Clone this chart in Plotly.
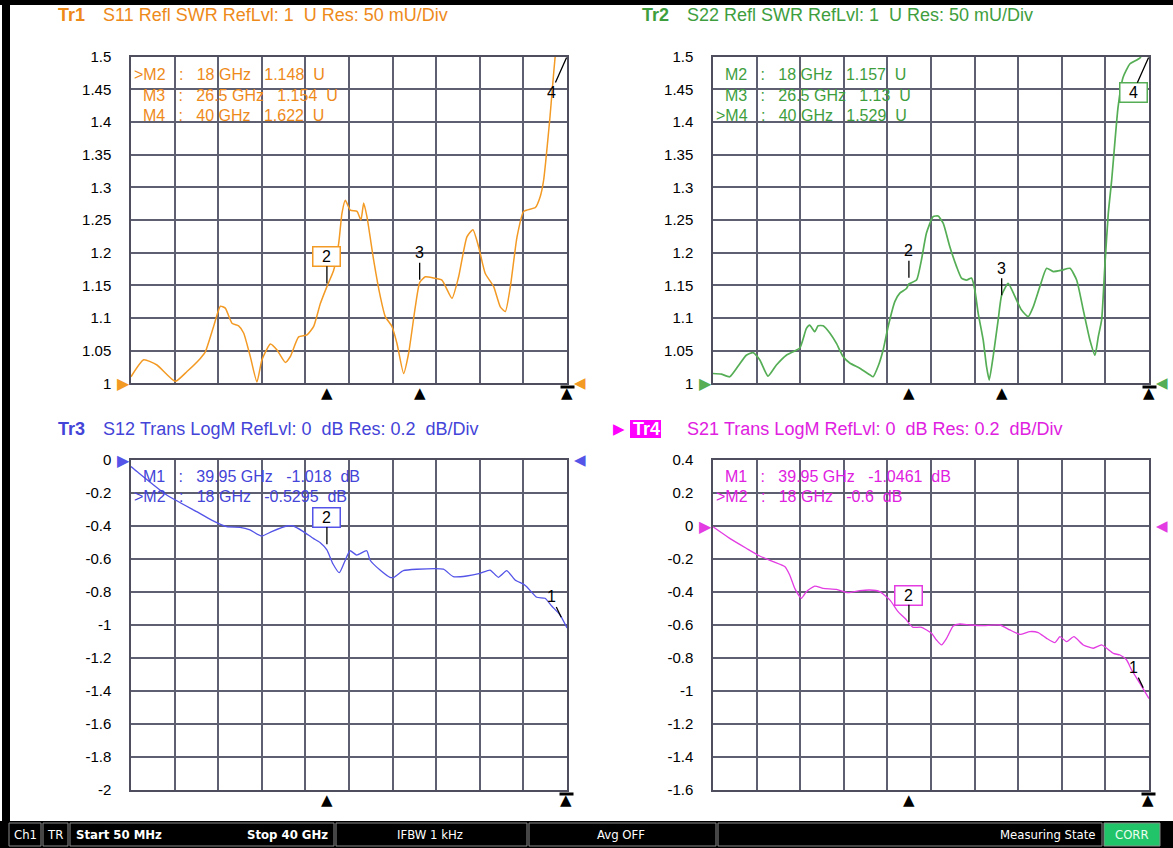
import plotly.graph_objects as go

W, H = 1173, 848

# ---------------- data ----------------
# Tr1  S11 SWR
s11_freq = [0.05, 1.21, 2.43, 4.11, 5.18, 6.40, 6.86, 7.62, 8.24, 8.69, 9.30, 9.91, 10.37, 10.98, 11.59,
            12.05, 12.82, 13.43, 14.19, 14.65, 15.41, 16.18, 16.79, 17.40, 18.0, 18.62, 19.08, 19.38, 19.69,
            20.15, 20.76, 21.12, 21.37, 21.67, 22.28, 22.89, 23.35, 23.96, 24.42, 25.03, 25.49, 26.10, 26.5,
            27.02, 27.78, 28.54, 29.46, 30.07, 30.83, 31.38, 31.90, 32.51, 33.28, 33.89, 34.35, 34.81, 35.42,
            36.03, 37.10, 37.55, 37.86, 38.40, 38.95, 40.0]
s11_swr = [1.010, 1.036, 1.028, 1.003, 1.018, 1.038, 1.048, 1.087, 1.118, 1.115, 1.092, 1.088, 1.077, 1.041, 1.002,
           1.036, 1.060, 1.051, 1.032, 1.041, 1.071, 1.074, 1.087, 1.122, 1.148, 1.173, 1.214, 1.260, 1.280,
           1.265, 1.263, 1.250, 1.276, 1.255, 1.189, 1.133, 1.102, 1.087, 1.061, 1.015, 1.046, 1.117, 1.154,
           1.163, 1.161, 1.158, 1.130, 1.163, 1.224, 1.235, 1.209, 1.168, 1.148, 1.117, 1.110, 1.148, 1.224,
           1.263, 1.269, 1.286, 1.311, 1.400, 1.505, 1.622]

# Tr2  S22 SWR
s22_freq = [0.05, 0.81, 1.58, 2.34, 3.10, 3.72, 4.33, 5.09, 5.86, 6.77, 8.00, 8.61, 8.91, 9.37, 9.68,
            10.14, 10.75, 11.36, 11.97, 12.58, 13.50, 14.42, 14.72, 15.18, 15.64, 16.10, 16.71, 17.17, 17.78, 18.0,
            18.70, 19.15, 19.61, 20.22, 20.68, 21.14, 21.75, 22.36, 22.82, 23.28, 23.74, 24.04, 24.35, 24.81, 25.11,
            25.36, 25.72, 26.18, 26.5, 27.10, 27.71, 28.32, 28.93, 29.39, 30.00, 30.62, 31.23, 31.99, 32.76, 33.37,
            33.98, 34.59, 35.05, 35.35, 35.66, 35.97, 36.27, 36.58, 37.16, 37.62, 38.26, 39.18, 40.0]
s22_swr = [1.015, 1.014, 1.010, 1.026, 1.043, 1.047, 1.036, 1.011, 1.028, 1.043, 1.054, 1.084, 1.089, 1.079, 1.088,
           1.088, 1.077, 1.061, 1.041, 1.031, 1.023, 1.013, 1.010, 1.026, 1.051, 1.087, 1.125, 1.138, 1.145, 1.152,
           1.158, 1.189, 1.230, 1.255, 1.256, 1.245, 1.209, 1.179, 1.161, 1.158, 1.161, 1.143, 1.107, 1.066, 1.026,
           1.005, 1.041, 1.097, 1.135, 1.153, 1.133, 1.112, 1.102, 1.117, 1.148, 1.176, 1.171, 1.173, 1.176, 1.158,
           1.112, 1.066, 1.043, 1.071, 1.097, 1.184, 1.260, 1.311, 1.422, 1.468, 1.489, 1.498, 1.529]

# Tr3  S12 LogM (dB)
s12_freq = [0.05, 0.6, 3.32, 6.07, 7.44, 8.82, 10.04, 10.95, 12.03, 12.94, 14.32, 14.92, 15.84, 16.75, 17.37,
            18.0, 18.56, 19.14, 19.6, 20.12, 20.73, 21.65, 21.95, 22.87, 23.78, 24.15, 25.0, 26.23, 28.67, 29.58,
            30.81, 32.03, 32.95, 33.71, 34.48, 35.24, 36.0, 36.31, 37.23, 37.99, 38.6, 39.36, 40.0]
s12_db = [-0.04, -0.07, -0.212, -0.313, -0.364, -0.404, -0.408, -0.424, -0.461, -0.434, -0.400, -0.400, -0.434, -0.475, -0.50,
          -0.545, -0.63, -0.683, -0.62, -0.55, -0.576, -0.55, -0.606, -0.667, -0.711, -0.711, -0.671, -0.662, -0.662, -0.707,
          -0.703, -0.687, -0.667, -0.711, -0.671, -0.727, -0.752, -0.768, -0.832, -0.838, -0.885, -0.939, -1.018]

# Tr4  S21 LogM (dB)
s21_freq = [0.05, 1.58, 3.10, 4.33, 5.55, 6.62, 7.08, 7.54, 8.15, 8.61, 9.37, 10.14, 11.36, 12.43, 13.50,
            14.42, 15.33, 16.25, 17.01, 17.78, 18.0, 18.39, 19.15, 20.07, 20.53, 20.99, 21.45, 22.06, 22.67, 23.59,
            24.81, 26.34, 27.25, 28.17, 29.09, 29.85, 30.62, 31.38, 31.84, 32.45, 33.12, 33.98, 34.90, 35.66, 36.73,
            37.34, 37.95, 38.41, 39.17, 40.0]
s21_db = [-0.005, -0.075, -0.135, -0.182, -0.216, -0.246, -0.297, -0.378, -0.438, -0.398, -0.364, -0.378, -0.384, -0.404, -0.392,
          -0.388, -0.398, -0.448, -0.519, -0.570, -0.59, -0.614, -0.614, -0.650, -0.691, -0.721, -0.681, -0.606, -0.594, -0.600,
          -0.604, -0.600, -0.630, -0.657, -0.640, -0.646, -0.681, -0.707, -0.671, -0.701, -0.671, -0.721, -0.741, -0.721, -0.772,
          -0.782, -0.812, -0.873, -0.954, -1.046]

swr_ticks = [1.0, 1.05, 1.1, 1.15, 1.2, 1.25, 1.3, 1.35, 1.4, 1.45, 1.5]
swr_ticktext = ["1", "1.05", "1.1", "1.15", "1.2", "1.25", "1.3", "1.35", "1.4", "1.45", "1.5"]
s12_ticks = [-2.0, -1.8, -1.6, -1.4, -1.2, -1.0, -0.8, -0.6, -0.4, -0.2, 0.0]
s12_ticktext = ["-2", "-1.8", "-1.6", "-1.4", "-1.2", "-1", "-0.8", "-0.6", "-0.4", "-0.2", "0"]
s21_ticks = [-1.6, -1.4, -1.2, -1.0, -0.8, -0.6, -0.4, -0.2, 0.0, 0.2, 0.4]
s21_ticktext = ["-1.6", "-1.4", "-1.2", "-1", "-0.8", "-0.6", "-0.4", "-0.2", "0", "0.2", "0.4"]

# markers
tr1_mk_names = ["M2", "M3", "M4"]
tr1_mk_freq = [18, 26.5, 40]
tr1_mk_val = [1.148, 1.154, 1.622]
tr2_mk_names = ["M2", "M3", "M4"]
tr2_mk_freq = [18, 26.5, 40]
tr2_mk_val = [1.157, 1.13, 1.529]
tr3_mk_names = ["M1", "M2"]
tr3_mk_freq = [39.95, 18]
tr3_mk_val = [-1.018, -0.5295]
tr4_mk_names = ["M1", "M2"]
tr4_mk_freq = [39.95, 18]
tr4_mk_val = [-1.0461, -0.6]

status_cells = ["Ch1", "TR", "Start 50 MHz", "Stop 40 GHz", "IFBW 1 kHz", "Avg OFF", "Measuring State", "CORR"]

# ---------------- styling ----------------
FONT = "Liberation Sans, Arial, Helvetica, sans-serif"
GLYPH = "DejaVu Sans, sans-serif"
GRID = "#5f5f72"
ORANGE, ORANGE_T = "#F39A24", "#EE8A1A"
GREEN, GREEN_T = "#55AE55", "#3E9E3E"
BLUE, BLUE_T = "#5454E8", "#4444D8"
MAG, MAG_T = "#E23CE2", "#E020E0"


def px(x):
    return x / W


def py(y):
    return 1 - y / H


def nb(s):
    return s.replace(" ", "\u00a0")


def fmt(v):
    return ("%g" % v)


panels = [
    dict(xa="x", ya="y", xd=(131, 567), yd=(56.6, 383.3), fx=s11_freq, fy=s11_swr, c=ORANGE, ct=ORANGE_T, lw=1.5,
         yr=(1.0, 1.5), tv=swr_ticks, tt=swr_ticktext, ref=1.0, unit="U",
         names=tr1_mk_names, mf=tr1_mk_freq, mv=tr1_mk_val, active="M2", rows=(-17.5, -38.5, -58.5),
         tag="Tr1", title="S11 Refl SWR RefLvl: 1  U Res: 50 mU/Div", hx=(56, 101), hy=15),
    dict(xa="x2", ya="y2", xd=(713, 1149), yd=(56.6, 383.3), fx=s22_freq, fy=s22_swr, c=GREEN, ct=GREEN_T, lw=1.7,
         yr=(1.0, 1.5), tv=swr_ticks, tt=swr_ticktext, ref=1.0, unit="U",
         names=tr2_mk_names, mf=tr2_mk_freq, mv=tr2_mk_val, active="M4", rows=(-17.5, -38.5, -58.5),
         tag="Tr2", title="S22 Refl SWR RefLvl: 1  U Res: 50 mU/Div", hx=(640, 685), hy=15),
    dict(xa="x3", ya="y3", xd=(131, 567), yd=(460, 790), fx=s12_freq, fy=s12_db, c=BLUE, ct=BLUE_T, lw=1.3,
         yr=(-2.0, 0.0), tv=s12_ticks, tt=s12_ticktext, ref=0.0, unit="dB",
         names=tr3_mk_names, mf=tr3_mk_freq, mv=tr3_mk_val, active="M2", rows=(-16.5, -36.5),
         tag="Tr3", title="S12 Trans LogM RefLvl: 0  dB Res: 0.2  dB/Div", hx=(56, 101), hy=429),
    dict(xa="x4", ya="y4", xd=(713, 1149), yd=(460, 790), fx=s21_freq, fy=s21_db, c=MAG, ct=MAG_T, lw=1.3,
         yr=(-1.6, 0.4), tv=s21_ticks, tt=s21_ticktext, ref=0.0, unit="dB",
         names=tr4_mk_names, mf=tr4_mk_freq, mv=tr4_mk_val, active="M2", rows=(-16.5, -36.5),
         tag=None, title="S21 Trans LogM RefLvl: 0  dB Res: 0.2  dB/Div", hx=(None, 685), hy=429),
]

label_offset = {"M1": (-15, -31, 12), "M2": (0, -30, 3), "M3": (0, -30, 3), "M4": (-16, 36, 1)}

fig = go.Figure()
layout = dict(width=W, height=H, autosize=False,
              margin=dict(l=0, r=0, t=0, b=0, pad=0, autoexpand=False), paper_bgcolor="white",
              plot_bgcolor="white", showlegend=False, hovermode=False,
              font=dict(family=FONT, size=15, color="black"))
annotations = []
shapes = []

for p in panels:
    fig.add_trace(go.Scatter(x=p["fx"], y=p["fy"], mode="lines", xaxis=p["xa"], yaxis=p["ya"],
                             line=dict(color=p["c"], width=p["lw"], shape="spline", smoothing=0.5),
                             hoverinfo="skip"))
    common = dict(showgrid=True, gridcolor=GRID, gridwidth=1.5, zeroline=False, showline=True,
                  linecolor="#4e4e5e", linewidth=1.5, mirror=True, ticks="", fixedrange=True,
                  automargin=False)
    xk = "xaxis" + p["xa"][1:]
    yk = "yaxis" + p["ya"][1:]
    layout[xk] = dict(domain=[px(p["xd"][0]), px(p["xd"][1])], range=[0.05, 40], tickmode="linear",
                      tick0=0.05, dtick=3.995, showticklabels=False, anchor=p["ya"], **common)
    layout[yk] = dict(domain=[py(p["yd"][1]), py(p["yd"][0])], range=list(p["yr"]), tickmode="array",
                      tickvals=p["tv"], ticktext=p["tt"], ticklabelstandoff=15,
                      tickfont=dict(family=FONT, size=15, color="black"), anchor=p["xa"], **common)

    xdom, ydom = p["xa"] + " domain", p["ya"] + " domain"

    # header
    if p["tag"]:
        annotations.append(dict(xref="paper", yref="paper", x=px(p["hx"][0]), y=py(p["hy"]), text="<b>%s</b>" % p["tag"],
                                showarrow=False, xanchor="left", yanchor="middle",
                                font=dict(family=FONT, size=18, color=p["ct"])))
    annotations.append(dict(xref="paper", yref="paper", x=px(p["hx"][1]), y=py(p["hy"]), text=nb(p["title"]),
                            showarrow=False, xanchor="left", yanchor="middle",
                            font=dict(family=FONT, size=18, color=p["ct"])))

    # marker readouts
    for i, (nm, f, v) in enumerate(zip(p["names"], p["mf"], p["mv"])):
        act = nm == p["active"]
        txt = ("&gt;" if act else "") + nm + "   :   " + fmt(f) + " GHz   " + fmt(v) + "  " + p["unit"]
        annotations.append(dict(xref=xdom, yref=ydom, x=0, y=1, xanchor="left", yanchor="middle",
                                xshift=1 if act else 10, yshift=p["rows"][i], text=nb(txt), showarrow=False,
                                font=dict(family=FONT, size=16, color=p["ct"])))

    # marker labels on the trace + triangles under the axis
    for nm, f, v in zip(p["names"], p["mf"], p["mv"]):
        act = nm == p["active"]
        ax, ay, so = label_offset[nm]
        a = dict(xref=p["xa"], yref=p["ya"], x=f, y=min(v, p["yr"][1]), text=nm[1:], showarrow=True,
                 arrowhead=0, arrowwidth=1.3, arrowcolor="black", ax=ax, ay=ay, standoff=so,
                 font=dict(family=FONT, size=16, color="black"))
        if act:
            a.update(bordercolor=p["c"], borderwidth=1.5, bgcolor="white", width=26, height=18, borderpad=0)
        annotations.append(a)
        annotations.append(dict(xref=p["xa"], yref=ydom, x=f, y=0, yanchor="top", xanchor="center",
                                yshift=1, text="\u25b2", showarrow=False,
                                font=dict(family=GLYPH, size=15, color="black")))
        if f >= 39.9:
            annotations.append(dict(xref=p["xa"], yref=ydom, x=f, y=0, yanchor="top", xanchor="center",
                                    yshift=-2, text=" ", showarrow=False, bgcolor="black", width=13, height=2,
                                    borderpad=0, font=dict(size=2)))

    # reference-level arrows
    annotations.append(dict(xref=p["xa"], yref=p["ya"], x=0.05, y=p["ref"], xanchor="right", yanchor="middle",
                            xshift=1, text="\u25b6", showarrow=False, font=dict(family=GLYPH, size=16, color=p["c"])))
    annotations.append(dict(xref=p["xa"], yref=p["ya"], x=40, y=p["ref"], xanchor="left", yanchor="middle",
                            xshift=5, text="\u25c0", showarrow=False, font=dict(family=GLYPH, size=15, color=p["c"])))

# Tr4 active-trace tag
shapes.append(dict(type="rect", xref="paper", yref="paper", x0=px(630), x1=px(661), y0=py(438), y1=py(420),
                   fillcolor="#FF00FF", line=dict(width=0), layer="above"))
annotations.append(dict(xref="paper", yref="paper", x=px(611), y=py(429), text="\u25b6", showarrow=False,
                        xanchor="left", yanchor="middle", font=dict(family=GLYPH, size=15, color="#FF00FF")))
annotations.append(dict(xref="paper", yref="paper", x=px(631), y=py(429), text="<b>Tr4</b>", showarrow=False,
                        xanchor="left", yanchor="middle", font=dict(family=FONT, size=18, color="white")))

# frame bars
shapes.append(dict(type="rect", xref="paper", yref="paper", x0=0, x1=1, y0=py(5), y1=1,
                   fillcolor="black", line=dict(width=0)))
shapes.append(dict(type="rect", xref="paper", yref="paper", x0=px(2), x1=px(10), y0=0, y1=1,
                   fillcolor="black", line=dict(width=0)))

# status bar
shapes.append(dict(type="rect", xref="paper", yref="paper", x0=0, x1=1, y0=0, y1=py(821),
                   fillcolor="black", line=dict(width=0)))
cell_edges = [(9, 41), (43, 68), (70, 334), (336, 527), (529, 716), (718, 1102), (1104, 1160)]
for i, (x0, x1) in enumerate(cell_edges):
    fill = "#22C46A" if i == 6 else "black"
    shapes.append(dict(type="rect", xref="paper", yref="paper", x0=px(x0), x1=px(x1), y0=py(846), y1=py(823),
                       fillcolor=fill, line=dict(color="#8a8a8a", width=1)))
SB = "DejaVu Sans Condensed, Liberation Sans Narrow, Arial Narrow, DejaVu Sans, sans-serif"
status_pos = [(25, "center", False), (55, "center", False), (74, "left", True), (330, "right", True),
              (430, "center", False), (621, "center", False), (1098, "right", False), (1132, "center", False)]
for txt, (x, anc, bold) in zip(status_cells, status_pos):
    annotations.append(dict(xref="paper", yref="paper", x=px(x), y=py(834.5), text=("<b>%s</b>" % txt) if bold else txt,
                            showarrow=False, xanchor=anc, yanchor="middle",
                            font=dict(family=SB, size=13, color="white" if txt != "CORR" else "#eaffef")))

layout["annotations"] = annotations
layout["shapes"] = shapes
fig.update_layout(**layout)

fig.write_html("out.html", config={"displayModeBar": False, "responsive": False},
               post_script="document.body.style.margin='0';document.body.style.overflow='hidden';")
